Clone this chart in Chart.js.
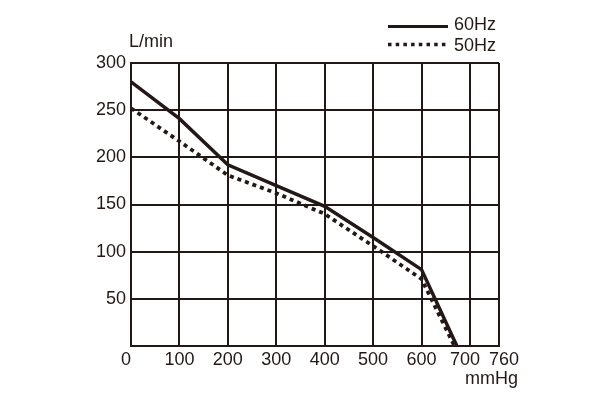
<!DOCTYPE html>
<html>
<head>
<meta charset="utf-8">
<script src="https://cdn.jsdelivr.net/npm/chart.js@4/dist/chart.umd.min.js"></script>
<style>
  html, body { margin: 0; padding: 0; background: #fff; }
  #wrap { width: 604px; height: 398px; }
</style>
</head>
<body>
<div id="wrap"><canvas id="chart" width="604" height="398"></canvas></div>
<script>
// pressure (mmHg) vs flow (L/min)
var pressure60 = [0, 100, 200, 300, 400, 500, 600, 673];
var flow60 = [280, 241, 192, 170, 148, 115, 81, 0];
var pressure50 = [0, 100, 200, 300, 400, 500, 600, 668];
var flow50 = [252, 217, 181, 162, 140, 106, 71, 0];
var xTicks = [0, 100, 200, 300, 400, 500, 600, 700, 760];
var seriesNames = ['60Hz', '50Hz'];

var ink = '#231815';
var font = '"Liberation Sans", Arial, sans-serif';

var toPoints = function(xs, ys){
    var pts = [];
    for (var i = 0; i < xs.length; i++) {
        pts.push({x: xs[i], y: ys[i]});
    }
    return pts;
};

// legend and axis units drawn on top
var extras = {
    id: 'extras',
    afterDraw: function(chart){
        var ctx = chart.ctx;
        ctx.save();
        ctx.strokeStyle = ink;
        ctx.fillStyle = ink;
        ctx.lineWidth = 3;
        ctx.beginPath();
        ctx.moveTo(388, 26.5);
        ctx.lineTo(448, 26.5);
        ctx.stroke();
        ctx.lineWidth = 3.5;
        ctx.setLineDash([3.5, 4.2]);
        ctx.beginPath();
        ctx.moveTo(388, 44.5);
        ctx.lineTo(446, 44.5);
        ctx.stroke();
        ctx.setLineDash([]);
        ctx.font = '18px ' + font;
        ctx.textBaseline = 'middle';
        ctx.textAlign = 'left';
        ctx.fillText(seriesNames[0], 454, 25.5);
        ctx.fillText(seriesNames[1], 454, 46.5);
        ctx.fillText('L/min', 129, 42);
        ctx.fillText('mmHg', 465, 379);
        ctx.restore();
    }
};

var ctx = document.getElementById('chart').getContext('2d');
var chartObj = new Chart(ctx, {
    type: 'line',
    data: {
        datasets: [{
            label: seriesNames[0],
            data: toPoints(pressure60, flow60),
            borderColor: ink,
            borderWidth: 3.5,
            pointRadius: 0,
            tension: 0,
            fill: false
        }, {
            label: seriesNames[1],
            data: toPoints(pressure50, flow50),
            borderColor: ink,
            borderWidth: 3.8,
            borderDash: [4, 4],
            pointRadius: 0,
            tension: 0,
            fill: false
        }]
    },
    options: {
        responsive: false,
        animation: false,
        layout: { padding: { top: 63, right: 105, left: 0, bottom: 0 } },
        plugins: {
            legend: { display: false },
            tooltip: { enabled: false }
        },
        scales: {
            x: {
                type: 'linear',
                min: 0,
                max: 760,
                afterBuildTicks: function(scale){
                    scale.ticks = xTicks.map(function(v){ return {value: v}; });
                },
                afterFit: function(scale){ scale.height = 52; },
                grid: { color: ink, lineWidth: 2, drawTicks: false },
                border: { color: ink, width: 2 },
                ticks: {
                    color: ink,
                    font: { family: font, size: 18 },
                    padding: 3,
                    maxRotation: 0,
                    autoSkip: false,
                    // nudge the crowded end labels apart like the print
                    callback: function(v){
                        if (v === 0) return '0  ';
                        if (v === 700) return '700  ';
                        if (v === 760) return '  760';
                        return '' + v;
                    }
                }
            },
            y: {
                min: 0,
                max: 300,
                afterFit: function(scale){ scale.width = 131; },
                grid: { color: ink, lineWidth: 2, drawTicks: false },
                border: { color: ink, width: 2 },
                ticks: {
                    stepSize: 50,
                    color: ink,
                    font: { family: font, size: 18 },
                    padding: 5,
                    callback: function(v){ return v === 0 ? '' : '' + v; }
                }
            }
        }
    },
    plugins: [extras]
});
</script>
</body>
</html>
